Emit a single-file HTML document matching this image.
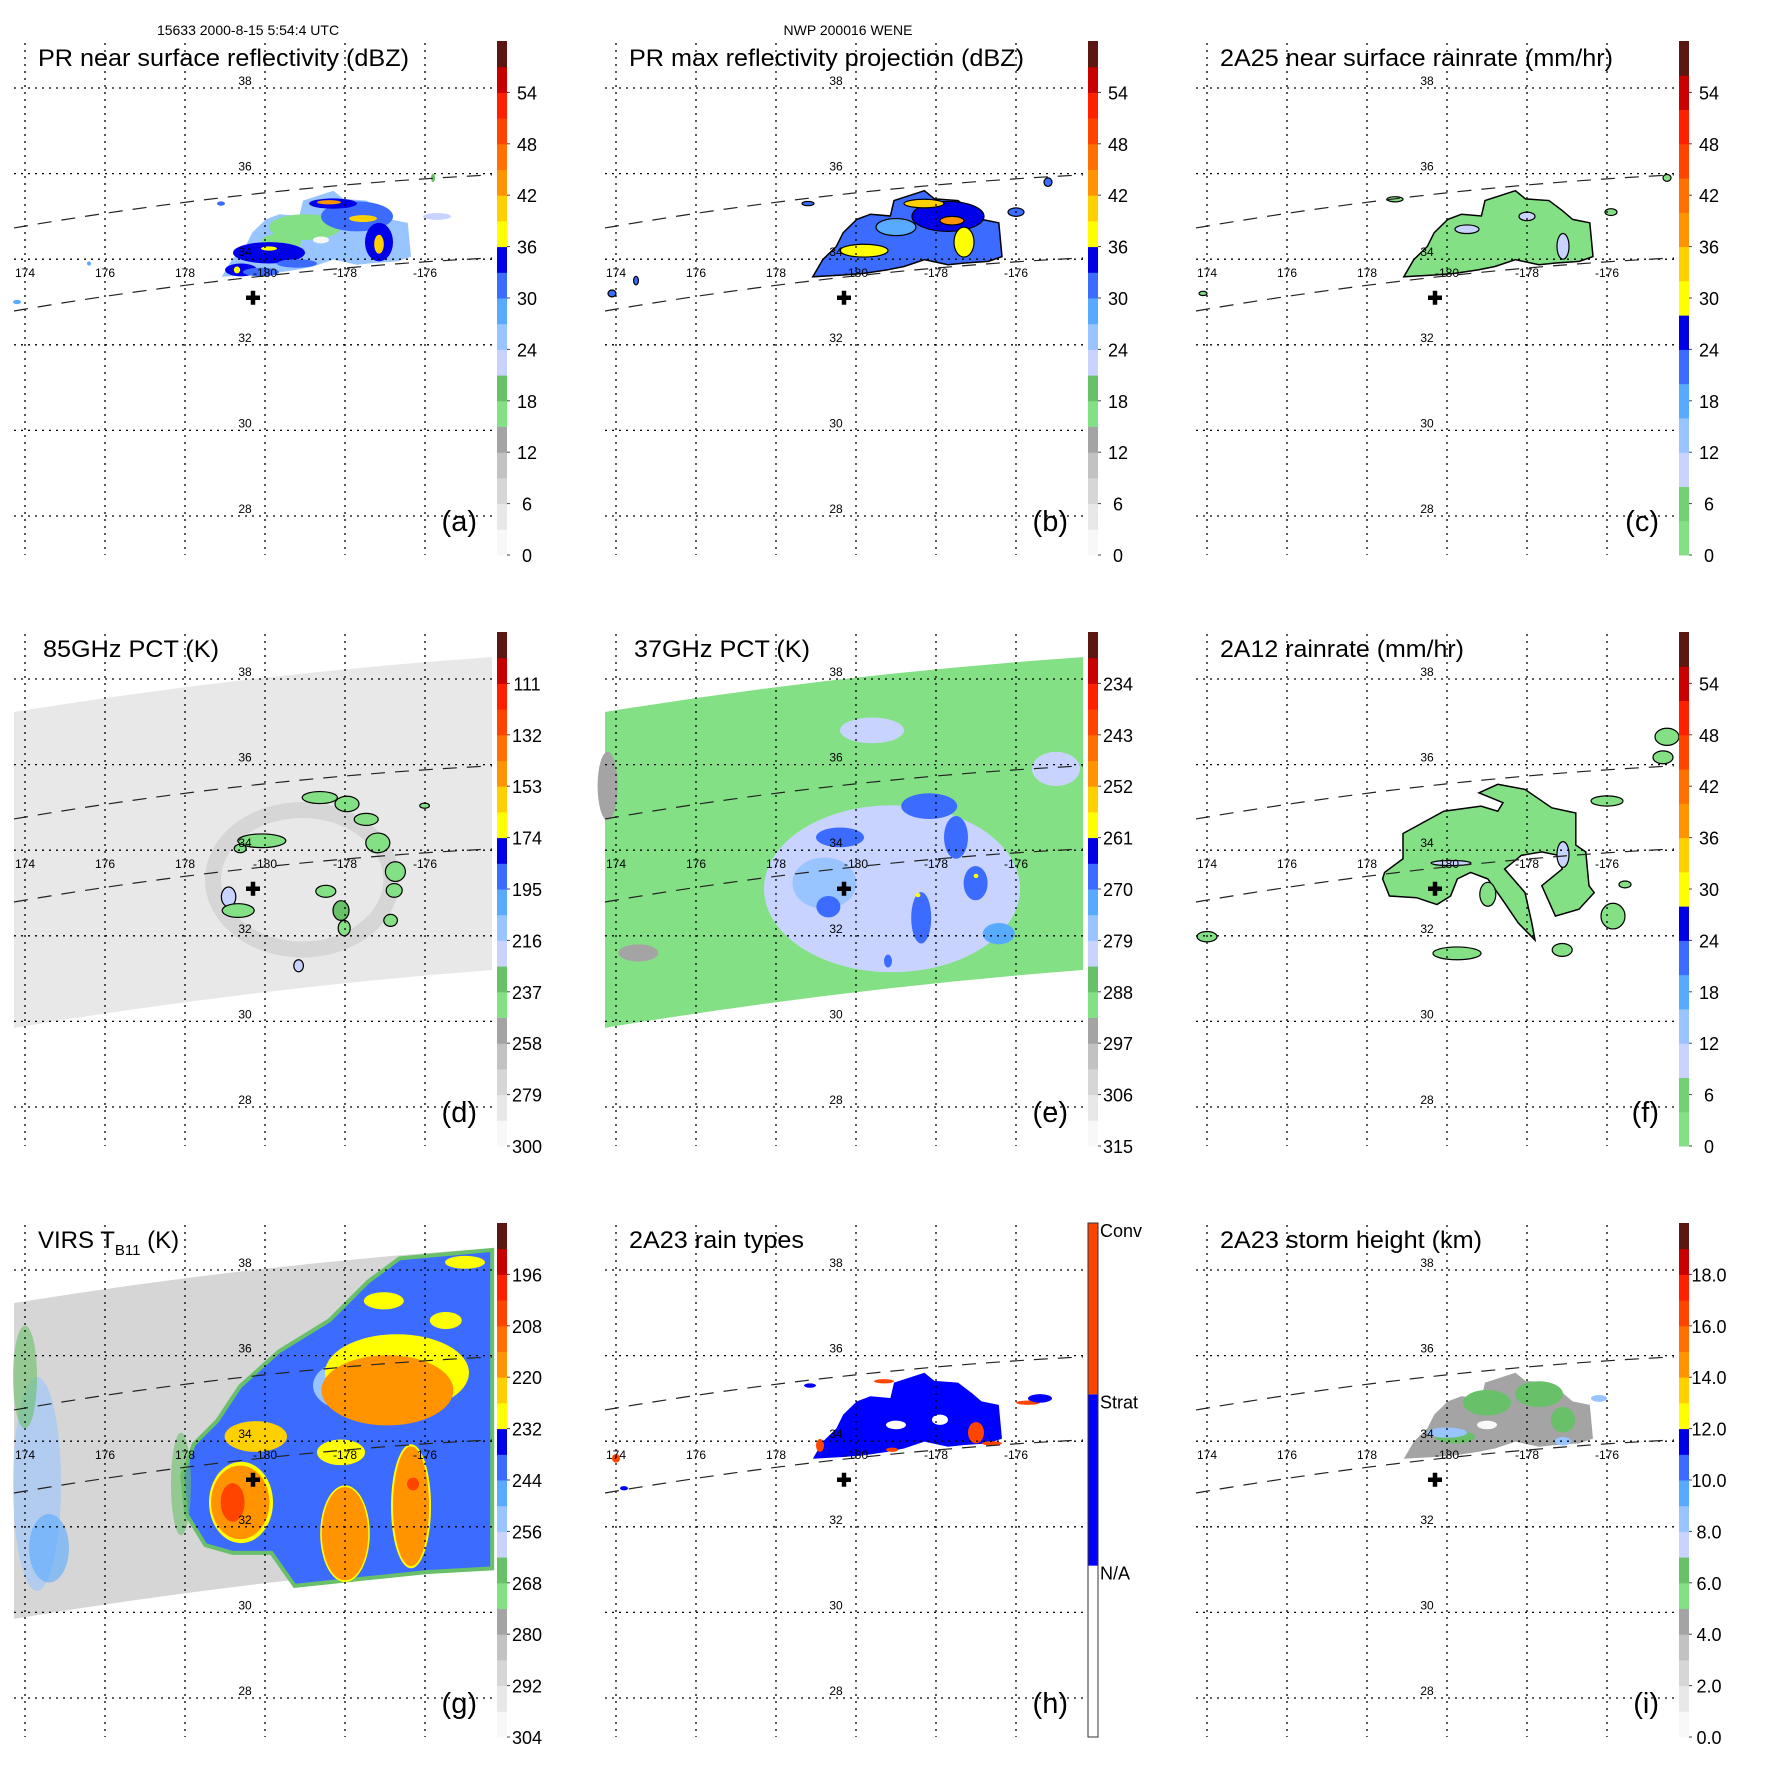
<!DOCTYPE html>
<html><head><meta charset="utf-8"><style>
html,body{margin:0;padding:0;background:#fff;}
svg{display:block;font-family:"Liberation Sans",Arial,sans-serif;}
</style></head><body>
<svg id="fig" xmlns="http://www.w3.org/2000/svg" width="1771" height="1771" viewBox="0 0 1771 1771"></svg>
<script>
// ---------- data ----------
const lonTicks = [174,176,178,180,182,184];
const lonLabels = ['174','176','178','-180','-178','-176'];
const latTicks = [38,36,34,32,30,28];
const latLabels = ['38','36','34','32','30','28'];

const cbA = ['0','6','12','18','24','30','36','42','48','54'];
const cbD = ['300','279','258','237','216','195','174','153','132','111'];
const cbE = ['315','306','297','288','279','270','261','252','243','234'];
const cbG = ['304','292','280','268','256','244','232','220','208','196'];
const cbI = ['0.0','2.0','4.0','6.0','8.0','10.0','12.0','14.0','16.0','18.0'];
const cbH = ['N/A','Strat','Conv'];

const palFull = ['#f8f8f8','#e8e8e8','#d6d6d6','#c2c2c2','#a4a4a4','#84e084','#68c068','#c8d4ff','#98c4ff','#58aaff','#3c6cff','#0000e8','#ffff00','#ffd000','#ff9400','#ff7000','#ff4400','#ff2000','#c80000','#5a1810'];
const palRain = ['#84e084','#74d074','#c8d4ff','#98c4ff','#58aaff','#3c6cff','#0000e8','#ffff00','#ffd000','#ff9400','#ff7000','#ff4400','#ff2000','#c80000','#5a1810'];
const palType = ['#ffffff','#0000ff','#ff4400'];

const swLon = [173.725,179.7,185.675];
const swTopLat = [34.73,35.52,35.97];
const swBotLat = [32.79,33.58,34.03];
const bigTopLat = [37.23,38.0,38.51];
const bigBotLat = [29.85,30.65,31.2];

const centerLon = 179.7, centerLat = 33.1;

const stormLon = [178.92,179.17,179.51,179.68,180.02,180.36,180.86,180.95,181.71,181.96,182.55,182.89,183.14,183.57,183.65,183.31,182.72,182.30,181.71,181.20,180.78,180.19,179.68];
const stormLat = [33.59,33.99,34.30,34.62,34.93,35.05,35.01,35.37,35.60,35.41,35.37,35.13,34.93,34.85,34.06,33.95,33.91,33.87,33.99,33.83,33.75,33.67,33.63];
const fLon = [178.90,179.92,180.85,181.27,181.40,180.80,181.27,181.95,182.62,183.22,183.22,183.47,183.55,183.68,183.30,182.71,182.37,182.88,182.79,182.37,181.86,181.44,181.95,182.12,182.20,181.78,181.44,181.02,180.59,180.26,180.09,179.75,179.24,178.56,178.39,178.44,178.90];
const fLat = [34.39,34.91,35.03,34.91,35.11,35.34,35.54,35.42,34.99,34.87,34.12,33.96,33.17,33.01,32.62,32.46,33.17,33.56,33.88,33.96,33.88,33.56,33.01,32.30,31.90,32.30,32.77,33.33,33.48,33.33,32.93,32.73,32.89,32.93,33.33,33.48,33.80];
const gLon = [178.8,179.38,180.35,181.61,182.58,183.36,185.68,185.68,184.03,182.58,180.74,180.16,179.19,178.51,178.03,177.93,178.22];
const gLat = [34.47,35.285,36.10,36.825,37.73,38.27,38.47,31.03,30.94,30.80,30.62,31.39,31.39,31.57,32.30,33.20,33.93];

const blobsA = [[181.0,34.75,0.9,0.3,17],[180.4,34.4,0.5,0.2,17],[182.3,35.0,0.9,0.35,32],[182.85,34.4,0.35,0.45,33],[180.1,34.15,0.9,0.25,34],[179.4,33.75,0.4,0.15,33],[179.9,33.7,0.45,0.1,31],[181.7,35.3,0.6,0.12,34],[180.8,33.9,0.5,0.1,31],[181.4,34.45,0.2,0.08,1],[182.45,34.95,0.35,0.08,39],[182.85,34.35,0.12,0.22,40],[180.1,34.25,0.2,0.05,38],[181.6,35.33,0.3,0.05,43],[179.3,33.75,0.08,0.08,38],[175.6,33.9,0.05,0.05,28],[173.8,33.0,0.1,0.05,27],[178.9,35.3,0.1,0.05,30],[184.2,35.9,0.05,0.1,18],[184.3,35.0,0.35,0.08,22]];
const blobsB = [[182.3,35.0,0.9,0.35,33],[182.7,34.4,0.25,0.35,38],[180.2,34.2,0.6,0.15,38],[181.7,35.3,0.5,0.1,40],[181.0,34.75,0.5,0.2,27],[182.4,34.9,0.3,0.1,42],[184.0,35.1,0.2,0.1,30],[184.8,35.8,0.1,0.1,30],[178.8,35.3,0.15,0.05,31],[173.9,33.2,0.1,0.08,30],[174.5,33.5,0.06,0.1,30]];
const blobsC = [[182.9,34.3,0.15,0.3,10],[180.5,34.7,0.3,0.1,9],[182.0,35.0,0.2,0.1,9],[178.7,35.4,0.2,0.06,3],[184.1,35.1,0.15,0.08,3],[173.9,33.2,0.1,0.05,3],[185.5,35.9,0.1,0.08,3]];
const blobsD = [[181.37,35.23,0.44,0.14,243],[182.05,35.08,0.3,0.18,243],[182.53,34.72,0.3,0.14,243],[182.82,34.17,0.3,0.23,240],[183.26,33.5,0.25,0.23,240],[183.23,33.06,0.2,0.16,243],[183.14,32.36,0.17,0.14,243],[179.92,34.22,0.6,0.16,243],[179.38,34.04,0.15,0.1,243],[179.09,32.91,0.18,0.23,225],[179.33,32.59,0.4,0.16,243],[181.52,33.04,0.25,0.14,243],[181.9,32.59,0.2,0.23,230],[181.98,32.18,0.15,0.18,243],[180.84,31.3,0.12,0.14,225],[183.99,35.04,0.12,0.06,243]];
const ringD = [180.93,33.31,2.23,1.63,262];
const blobsE = [[180.9,33.1,3.2,1.95,283],[179.21,33.23,0.8,0.6,277],[179.6,34.3,0.6,0.23,266],[181.83,35.03,0.7,0.3,266],[182.5,34.3,0.3,0.5,266],[182.99,33.23,0.3,0.4,268],[179.31,32.68,0.3,0.25,266],[181.63,32.42,0.25,0.6,270],[183.57,32.05,0.4,0.25,272],[180.8,31.41,0.1,0.15,266],[185.0,35.9,0.6,0.4,281],[180.4,36.8,0.8,0.3,283],[173.79,35.5,0.25,0.8,296],[174.56,31.6,0.5,0.2,296],[183.0,33.4,0.06,0.05,258],[181.55,32.95,0.06,0.05,258]];
const blobsG = [[182.2,35.3,1.0,0.6,252],[179.4,32.57,0.8,0.95,230],[179.38,32.57,0.73,0.86,218],[179.77,34.11,0.78,0.36,222],[179.19,32.57,0.3,0.45,205],[183.3,35.6,1.8,0.9,230],[183.06,35.19,1.65,0.82,220],[182.0,31.84,0.62,1.13,230],[182.0,31.84,0.58,1.09,218],[183.65,32.48,0.5,1.45,230],[183.65,32.48,0.45,1.4,218],[183.7,33.0,0.15,0.15,205],[181.9,33.74,0.6,0.3,230],[184.52,36.82,0.4,0.2,230],[185.0,38.18,0.5,0.15,230],[182.97,37.28,0.5,0.2,230],[174.3,33.0,0.6,2.5,255],[174.0,35.5,0.3,1.2,268],[174.6,31.5,0.5,0.8,248],[177.9,33.0,0.25,1.2,268]];
const blobsF = [[181.02,32.97,0.2,0.28,3],[184.15,32.46,0.3,0.3,3],[180.25,31.59,0.6,0.15,3],[182.88,31.67,0.25,0.15,3],[185.5,36.65,0.3,0.2,3],[185.4,36.17,0.25,0.15,3],[184.0,35.15,0.4,0.12,3],[174.0,31.98,0.25,0.12,3],[184.45,33.2,0.15,0.08,3],[180.1,33.7,0.5,0.06,9],[182.9,33.9,0.15,0.3,10]];
const blobsH = [[180.7,35.4,0.25,0.05,2.5],[183.0,34.2,0.2,0.25,2.5],[183.4,33.95,0.25,0.05,2.5],[180.9,33.8,0.15,0.05,2.5],[179.1,33.9,0.1,0.15,2.5],[184.3,34.9,0.3,0.05,2.5],[184.6,35.0,0.3,0.1,1.5],[174.0,33.6,0.1,0.1,2.5],[181.0,34.38,0.25,0.1,0.5],[182.1,34.5,0.2,0.12,0.5],[178.85,35.3,0.15,0.05,1.5],[174.2,32.9,0.1,0.05,1.5]];
const blobsI = [[181.0,34.9,0.6,0.3,6],[182.3,35.1,0.6,0.3,6],[182.9,34.5,0.3,0.3,6],[180.2,34.1,0.5,0.15,6],[180.0,34.2,0.5,0.12,8],[182.9,34.0,0.2,0.1,8],[183.8,35.0,0.2,0.08,8.5],[181.0,34.38,0.25,0.1,0.2]];

function X(lon){ return 25 + (lon-174)*40; }
function Y(lat){ return 88 + (38-lat)*42.8; }
function RX(d){ return d*40; }
function RY(d){ return d*42.8; }

const NS='http://www.w3.org/2000/svg';
const svg=document.getElementById('fig');
function mk(tag, attrs, parent){
  const e=document.createElementNS(NS,tag);
  for(const k in attrs) e.setAttribute(k, attrs[k]);
  parent.appendChild(e);
  return e;
}
function colorOf(p, v){
  if(p.type==='type'){ const i=Math.max(0,Math.min(2,Math.floor(v))); return palType[i]; }
  const pal=p.pal;
  let f=(v-p.vmin)/(p.vmax-p.vmin);
  if(p.rev) f=1-f;
  let i=Math.floor(f*pal.length);
  i=Math.max(0,Math.min(pal.length-1,i));
  return pal[i];
}
function quadPath(lats, rev){
  const p0=[X(swLon[0]),Y(lats[0])], p1=[X(swLon[1]),Y(lats[1])], p2=[X(swLon[2]),Y(lats[2])];
  const c=[2*p1[0]-(p0[0]+p2[0])/2, 2*p1[1]-(p0[1]+p2[1])/2];
  if(!rev) return 'M'+p0[0]+','+p0[1]+' Q'+c[0]+','+c[1]+' '+p2[0]+','+p2[1];
  return 'L'+p2[0]+','+p2[1]+' Q'+c[0]+','+c[1]+' '+p0[0]+','+p0[1];
}
function polyPts(lons,lats){ return lons.map((l,i)=>X(l)+','+Y(lats[i])).join(' '); }

const panels=[
 {id:'a',col:0,row:0,title:'PR near surface reflectivity (dBZ)',tl:371,tx:38,cb:cbA,pal:palFull,vmin:0,vmax:60,rev:false,blobs:blobsA,body:25,bodyStroke:false},
 {id:'b',col:1,row:0,title:'PR max reflectivity projection (dBZ)',tl:395,tx:38,cb:cbA,pal:palFull,vmin:0,vmax:60,rev:false,blobs:blobsB,body:31,bodyStroke:true},
 {id:'c',col:2,row:0,title:'2A25 near surface rainrate (mm/hr)',tl:393,tx:38,cb:cbA,pal:palRain,vmin:0,vmax:60,rev:false,blobs:blobsC,body:2,bodyStroke:true},
 {id:'d',col:0,row:1,title:'85GHz PCT (K)',tl:176,tx:43,cb:cbD,pal:palFull,vmin:90,vmax:300,rev:true,blobs:blobsD,big:285,ring:true,blobStroke:true},
 {id:'e',col:1,row:1,title:'37GHz PCT (K)',tl:176,tx:43,cb:cbE,pal:palFull,vmin:225,vmax:315,rev:true,blobs:blobsE,big:290},
 {id:'f',col:2,row:1,title:'2A12 rainrate (mm/hr)',tl:244,tx:38,cb:cbA,pal:palRain,vmin:0,vmax:60,rev:false,blobs:blobsF,fpoly:true,blobStroke:true},
 {id:'g',col:0,row:2,title:'VIRS',tx:38,cb:cbG,pal:palFull,vmin:184,vmax:304,rev:true,blobs:blobsG,big:290,gpoly:true},
 {id:'h',col:1,row:2,title:'2A23 rain types',tl:175,tx:38,cb:cbH,type:'type',blobs:blobsH,body:1.5,bodyStroke:false},
 {id:'i',col:2,row:2,title:'2A23 storm height (km)',tl:262,tx:38,cb:cbI,pal:palFull,vmin:0,vmax:20,rev:false,blobs:blobsI,body:4.5,bodyStroke:false}
];

const PITCH=591;
panels.forEach(p=>{
  const g=mk('g',{transform:'translate('+(p.col*PITCH)+','+(p.row*PITCH)+')'},svg);
  
  

  if(p.big!==undefined){
    const d=quadPath(bigTopLat,false)+' '+quadPath(bigBotLat,true)+' Z';
    const s=mk('path',{d:d,fill:colorOf(p,p.big),stroke:'none'},g);
    
    
  }
  if(p.ring){
    const r=mk('ellipse',{cx:X(ringD[0]),cy:Y(ringD[1]),rx:RX(ringD[2]),ry:RY(ringD[3]),fill:'none',stroke:colorOf(p,ringD[4]),'stroke-width':16,opacity:0.45},g);
    
    
  }
  if(p.gpoly){
    const gp=mk('polygon',{points:polyPts(gLon,gLat),fill:colorOf(p,240),stroke:colorOf(p,268),'stroke-width':4},g);
    
    
  }
  if(p.body!==undefined){
    const b=mk('polygon',{points:polyPts(stormLon,stormLat),fill:colorOf(p,p.body),stroke:p.bodyStroke?'#000':'none','stroke-width':1.5},g);
    
    
  }
  if(p.fpoly){
    const f=mk('polygon',{points:polyPts(fLon,fLat),fill:colorOf(p,3),stroke:'#000','stroke-width':1.5},g);
    
    
  }
  p.blobs.forEach((bl,k)=>{
    const e=mk('ellipse',{cx:X(bl[0]),cy:Y(bl[1]),rx:RX(bl[2]),ry:RY(bl[3]),fill:colorOf(p,bl[4]),stroke:(p.blobStroke||p.bodyStroke)?'#000':'none','stroke-width':1.2},g);
    if(p.id==='g' && k>=16) e.setAttribute('opacity','0.6');
    
    
  });

  lonTicks.forEach((lon,i)=>{
    const l=mk('line',{x1:X(lon),x2:X(lon),y1:43,y2:555,stroke:'#000','stroke-width':1.3,'stroke-dasharray':'2,5'},g);
    
    
    const t=mk('text',{x:X(lon),y:277,'font-size':12,'text-anchor':'middle',fill:'#000'},g);
    t.textContent=lonLabels[i];
    
    
  });
  latTicks.forEach((lat,i)=>{
    const l=mk('line',{x1:14,x2:492,y1:Y(lat),y2:Y(lat),stroke:'#000','stroke-width':1.3,'stroke-dasharray':'2,5'},g);
    
    
    const t=mk('text',{x:X(180)-20,y:Y(lat)-3,'font-size':12,'text-anchor':'middle',fill:'#000'},g);
    t.textContent=latLabels[i];
    
    
  });
  [swTopLat,swBotLat].forEach((lats,k)=>{
    const s=mk('path',{d:quadPath(lats,false),fill:'none',stroke:'#222','stroke-width':1.2,'stroke-dasharray':'14,10'},g);
    
    
  });
  const cx=X(centerLon), cy=Y(centerLat);
  const pm=mk('path',{d:'M'+(cx-7)+','+cy+' H'+(cx+7)+' M'+cx+','+(cy-7)+' V'+(cy+7),stroke:'#000','stroke-width':4.5,fill:'none'},g);
  
  

  const tt=mk('text',{x:p.tx,y:66,'font-size':24,fill:'#000'},g);
  if(p.id==='g'){
    tt.textContent='VIRS T';
    const sub=mk('tspan',{'font-size':15,dy:7},tt); sub.textContent='B11';
    const rest=mk('tspan',{dy:-7},tt); rest.textContent=' (K)';
  } else {
    tt.textContent=p.title;
    tt.setAttribute('textLength',p.tl);
    tt.setAttribute('lengthAdjust','spacingAndGlyphs');
  }
  
  

  const lt=mk('text',{x:477,y:531,'font-size':29,'text-anchor':'end',fill:'#000'},g);
  lt.textContent='('+p.id+')';
  
  

  const cbTop=41, cbBot=555, cbX=497, cbW=10;
  const cbg=mk('g',{},g);
  
  
  if(p.type==='type'){
    const h=(cbBot-cbTop)/3;
    palType.forEach((c,i)=>{
      const r=mk('rect',{x:cbX,y:cbBot-(i+1)*h,width:cbW,height:h,fill:c},cbg);
      
      
      const t=mk('text',{x:cbX+cbW+2,y:cbBot-(i+1)*h+14,'font-size':18,fill:'#000'},cbg);
      t.textContent=cbH[i];
      
      
    });
    const o=mk('rect',{x:cbX,y:cbTop,width:cbW,height:cbBot-cbTop,fill:'none',stroke:'#333','stroke-width':1},cbg);
    
    
  } else {
    const n=p.pal.length, h=(cbBot-cbTop)/n;
    p.pal.forEach((c,i)=>{
      const r=mk('rect',{x:cbX,y:cbBot-(i+1)*h,width:cbW,height:h+0.5,fill:c},cbg);
      
      
    });
    const step=(cbBot-cbTop)/10;
    p.cb.forEach((lab,i)=>{
      const y=cbBot-i*step;
      const tk=mk('line',{x1:cbX+cbW,x2:cbX+cbW+3,y1:y,y2:y,stroke:'#444','stroke-width':1},cbg);
      
      
      const t=mk('text',{x:527,y:y+7,'font-size':18,'text-anchor':'middle',fill:'#000'},cbg);
      t.textContent=lab;
      
      
    });
  }
});

const h1=mk('text',{x:248,y:35,'font-size':14,'text-anchor':'middle',fill:'#000'},svg);
h1.textContent='15633 2000-8-15 5:54:4 UTC';


const h2=mk('text',{x:848,y:35,'font-size':14,'text-anchor':'middle',fill:'#000'},svg);
h2.textContent='NWP 200016 WENE';


</script>
</body></html>
